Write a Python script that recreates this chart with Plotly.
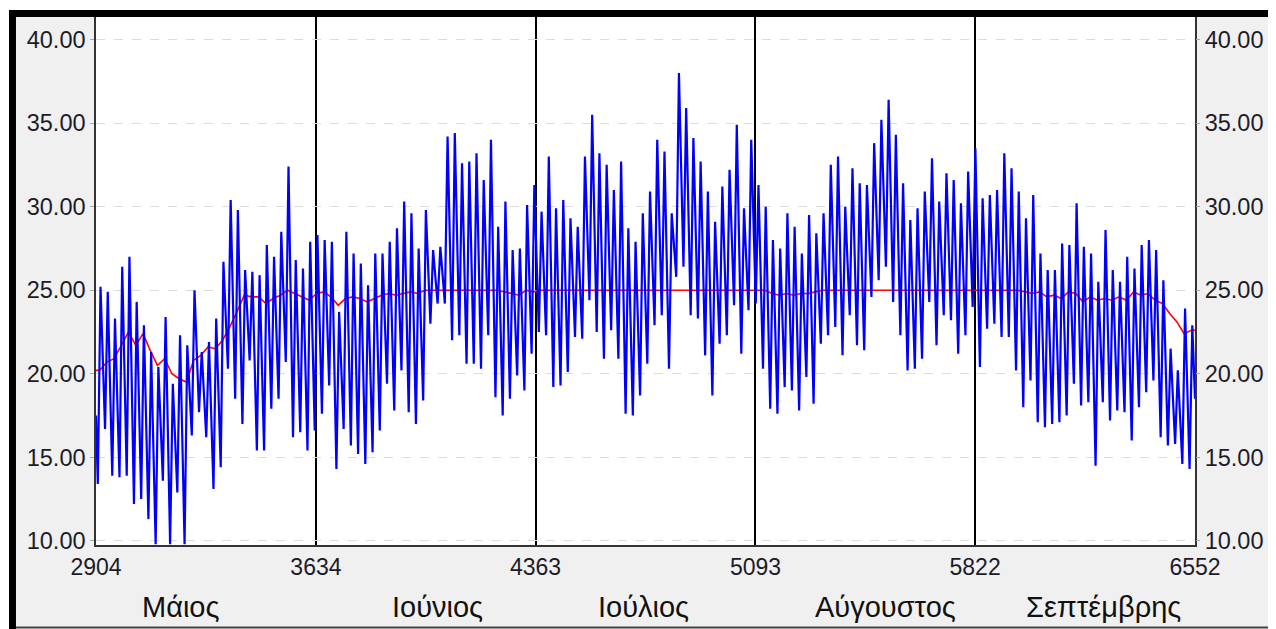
import plotly.graph_objects as go

# ---------------- data ----------------
START_HOUR = 2904
END_HOUR = 6552
HOURS_PER_DAY = 24
MIN_HOUR_OF_DAY = 6
MAX_HOUR_OF_DAY = 15
RED_HOUR_OF_DAY = 12

blue_start_value = 17.5
blue_end_value = 18.5

# daily minimum temperature (blue trace, lows)
daily_min = [
    13.4, 16.7, 13.9, 13.8, 13.9, 12.2, 12.5, 11.3, 9.8, 13.6, 9.8, 12.9, 9.8, 16.3, 17.7, 16.2, 13.1, 14.4,
    20.3, 18.5, 17.0, 20.8, 15.4, 15.4, 17.9, 18.5, 20.7, 16.2, 16.5, 15.4, 16.6, 17.6, 19.3, 14.3, 16.7, 15.7, 15.2,
    14.6, 15.3, 16.6, 19.4, 17.8, 20.2, 17.7, 17.0, 18.4, 23.0, 24.2, 24.2, 22.0, 22.3, 20.6, 20.6, 20.3, 22.3, 18.6,
    17.5, 18.5, 19.9, 19.0, 21.2, 22.5, 22.3, 19.2, 19.3, 20.1, 22.2, 22.1, 24.4, 22.5, 20.9, 22.6, 20.9, 17.6, 17.5,
    18.7, 20.6, 22.9, 23.5, 20.3, 25.8, 26.4, 23.5, 23.3, 21.1, 18.7, 21.8, 22.3, 24.1, 21.2, 23.8, 24.2, 20.3, 17.9,
    17.6, 19.2, 19.0, 17.8, 19.8, 18.2, 21.8, 22.3, 22.8, 21.1, 23.5, 21.7, 21.4, 24.6, 25.6, 26.4, 24.3, 22.3, 20.2,
    20.3, 20.9, 24.3, 21.7, 23.5, 23.2, 21.2, 22.3, 24.0, 20.4, 22.7, 23.0, 22.2, 22.2, 20.2, 18.0, 19.6, 17.1, 16.8,
    17.0, 17.1, 17.5, 19.4, 18.1, 18.3, 14.5, 18.3, 17.2, 17.8, 17.7, 16.0, 18.0, 18.9, 19.6, 16.2, 15.7, 15.8, 14.6, 14.3,
]

# daily maximum temperature (blue trace, highs)
daily_max = [
    25.2, 24.9, 23.3, 26.4, 27.0, 24.3, 22.9, 21.3, 20.4, 23.4, 19.4, 22.3, 21.7, 25.0, 21.3, 21.9, 23.3, 26.7,
    30.4, 29.8, 26.2, 26.1, 25.9, 27.7, 27.0, 28.5, 32.4, 26.8, 26.3, 27.9, 28.3, 28.0, 27.9, 23.7, 28.5, 27.2, 26.6,
    25.3, 27.2, 27.2, 27.9, 28.7, 30.3, 29.6, 27.5, 29.8, 27.4, 27.6, 34.2, 34.4, 32.6, 32.7, 33.2, 31.6, 34.0, 28.8,
    30.3, 27.4, 27.5, 30.1, 31.3, 29.7, 33.0, 29.9, 30.4, 29.3, 28.8, 33.0, 35.5, 33.2, 32.5, 31.0, 32.7, 28.7, 27.9,
    29.6, 30.9, 34.0, 33.3, 29.6, 38.0, 35.9, 34.1, 32.7, 30.9, 29.1, 31.2, 32.2, 34.9, 29.9, 34.0, 31.3, 30.0, 28.0,
    27.5, 29.6, 28.8, 27.2, 29.5, 28.4, 29.6, 32.5, 33.0, 30.0, 32.3, 31.4, 31.3, 33.8, 35.2, 36.4, 34.3, 31.4, 29.2,
    29.9, 30.9, 32.9, 30.3, 32.0, 31.6, 30.2, 32.1, 33.5, 30.5, 30.7, 31.0, 33.2, 32.3, 30.9, 29.3, 30.7, 27.2, 26.2,
    26.2, 27.8, 27.7, 30.2, 27.6, 27.2, 25.5, 28.6, 26.2, 25.5, 27.0, 26.3, 27.7, 28.0, 27.4, 25.6, 21.5, 20.2, 23.9, 22.9,
]

# daily value of the red (limited) series
red_daily = [
    20.2, 20.7, 20.9, 21.7, 22.5, 21.7, 22.4, 21.4, 20.5, 20.9, 20.0, 19.7, 19.5, 20.8, 21.1, 21.6, 21.5, 22.0,
    22.8, 23.7, 24.7, 24.6, 24.6, 24.2, 24.5, 24.7, 25.0, 24.8, 24.6, 24.4, 24.8, 24.9, 24.6, 24.1, 24.5, 24.6, 24.5,
    24.3, 24.5, 24.7, 24.8, 24.7, 24.8, 24.9, 24.8, 25.0, 25.0, 25.0, 25.0, 25.0, 25.0, 25.0, 25.0, 25.0, 25.0, 25.0,
    24.9, 24.8, 24.7, 25.0, 24.9, 25.0, 25.0, 25.0, 25.0, 25.0, 25.0, 25.0, 25.0, 25.0, 25.0, 25.0, 25.0, 25.0, 25.0,
    25.0, 25.0, 25.0, 25.0, 25.0, 25.0, 25.0, 25.0, 25.0, 25.0, 25.0, 25.0, 25.0, 25.0, 25.0, 25.0, 25.0, 25.0, 24.8,
    24.7, 24.8, 24.7, 24.8, 24.8, 24.9, 25.0, 25.0, 25.0, 25.0, 25.0, 25.0, 25.0, 25.0, 25.0, 25.0, 25.0, 25.0, 25.0,
    25.0, 25.0, 25.0, 25.0, 25.0, 25.0, 25.0, 25.0, 25.0, 25.0, 25.0, 25.0, 25.0, 25.0, 25.0, 24.9, 24.8, 24.9, 24.6,
    24.7, 24.5, 24.9, 24.8, 24.3, 24.6, 24.4, 24.5, 24.4, 24.6, 24.4, 24.9, 24.7, 24.8, 24.4, 24.2, 23.6, 23.1, 22.4, 22.6,
]

x_tick_vals = [2904, 3634, 4363, 5093, 5822, 6552]
x_tick_text = ["2904", "3634", "4363", "5093", "5822", "6552"]
y_tick_vals = [10, 15, 20, 25, 30, 35, 40]

month_names = ["Μάιος", "Ιούνιος", "Ιούλιος", "Αύγουστος", "Σεπτέμβρης"]
month_label_x = [3183, 4039, 4720, 5523, 6247]

# ---------------- build series ----------------
blue_x, blue_y = [START_HOUR], [blue_start_value]
for d, (lo, hi) in enumerate(zip(daily_min, daily_max)):
    base = START_HOUR + d * HOURS_PER_DAY
    blue_x += [base + MIN_HOUR_OF_DAY, base + MAX_HOUR_OF_DAY]
    blue_y += [lo, hi]
blue_x.append(END_HOUR)
blue_y.append(blue_end_value)

red_x = [START_HOUR] + [START_HOUR + d * HOURS_PER_DAY + RED_HOUR_OF_DAY for d in range(len(red_daily))] + [END_HOUR]
red_y = [red_daily[0]] + red_daily + [red_daily[-1]]

# ---------------- figure ----------------
OFF = 8                      # page body margin in the browser
W, H = 1276 - OFF, 629 - OFF
ML, MR, MT, MB = 88, 81, 9, 84
PW, PH = W - ML - MR, H - MT - MB

def px(sx):
    """screen x -> paper x"""
    return (sx - OFF - ML) / PW

def py(sy):
    """screen y -> paper y"""
    return (H - MB - (sy - OFF)) / PH

FONT = "Liberation Sans, Arial, sans-serif"
TXT = "#1c1c28"

fig = go.Figure()
fig.add_trace(go.Scatter(x=red_x, y=red_y, mode="lines", line=dict(color="#ff0000", width=1.6),
                         hoverinfo="skip", showlegend=False))
fig.add_trace(go.Scatter(x=blue_x, y=blue_y, mode="lines", line=dict(color="#0000ff", width=2.2),
                         hoverinfo="skip", showlegend=False))
fig.add_trace(go.Scatter(x=[None], y=[None], yaxis="y2", mode="lines", showlegend=False, hoverinfo="skip"))

yr = [9.75, 41.35]
fig.update_layout(
    width=W, height=H,
    margin=dict(l=ML, r=MR, t=MT, b=MB, autoexpand=False),
    paper_bgcolor="#f0f0f0", plot_bgcolor="#ffffff",
    showlegend=False,
    xaxis=dict(range=[START_HOUR, END_HOUR], tickvals=x_tick_vals, ticktext=x_tick_text,
               showgrid=True, gridcolor="#000000", gridwidth=1.5, zeroline=False,
               showline=True, linecolor="#333333", linewidth=1.5, mirror=True,
               ticks="", tickfont=dict(family=FONT, size=23, color=TXT), automargin=False,
               ticklabelstandoff=1),
    yaxis=dict(range=yr, tickvals=y_tick_vals, tickformat=".2f", showgrid=True,
               gridcolor="#dcdcdc", griddash="dash", gridwidth=1, zeroline=False,
               showline=True, linecolor="#333333", linewidth=1.5, mirror=True,
               ticks="outside", ticklen=4, tickcolor="#aaaaaa",
               tickfont=dict(family=FONT, size=23.5, color=TXT), automargin=False),
    yaxis2=dict(range=yr, tickvals=y_tick_vals, tickformat=".2f", overlaying="y", side="right",
                showgrid=False, zeroline=False, ticks="outside", ticklen=4, tickcolor="#aaaaaa",
                tickfont=dict(family=FONT, size=23.5, color=TXT), automargin=False),
)

for name, xm in zip(month_names, month_label_x):
    fig.add_annotation(x=xm, y=py(607), xref="x", yref="paper", text=name, showarrow=False,
                       font=dict(family=FONT, size=29, color="#111111"), xanchor="center", yanchor="middle")

# window frame: white outer strip, black top/left bands, bottom dark line
shapes = [
    dict(type="rect", xref="paper", yref="paper", x0=px(0), x1=px(1290), y0=py(10), y1=py(0),
         fillcolor="#ffffff", line=dict(width=0), layer="above"),
    dict(type="rect", xref="paper", yref="paper", x0=px(0), x1=px(9), y0=py(640), y1=py(0),
         fillcolor="#ffffff", line=dict(width=0), layer="above"),
    dict(type="rect", xref="paper", yref="paper", x0=px(9), x1=px(1290), y0=py(17), y1=py(10),
         fillcolor="#000000", line=dict(width=0), layer="above"),
    dict(type="rect", xref="paper", yref="paper", x0=px(9), x1=px(16), y0=py(640), y1=py(10),
         fillcolor="#000000", line=dict(width=0), layer="above"),
    dict(type="line", xref="paper", yref="paper", x0=px(16), x1=px(1290), y0=py(627.5), y1=py(627.5),
         line=dict(color="#444444", width=2), layer="above"),
]
fig.update_layout(shapes=shapes)

fig.write_html("out.html")
